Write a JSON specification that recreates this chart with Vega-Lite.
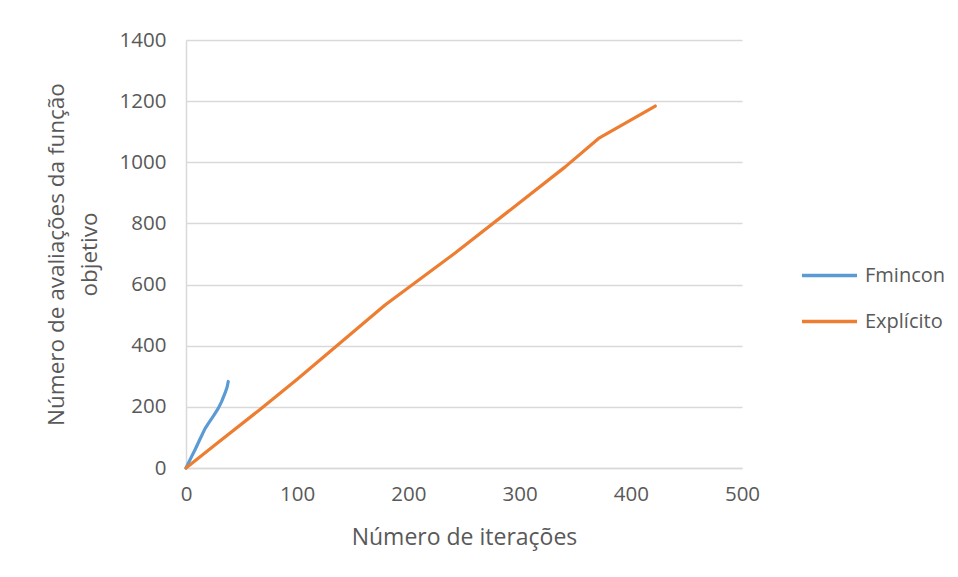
{
  "$schema": "https://vega.github.io/schema/vega-lite/v6.json",
  "autosize": {"type": "none"},
  "width": 556,
  "height": 428,
  "padding": {"left": 186, "top": 40, "right": 216, "bottom": 109},
  "background": "white",
  "config": {
    "view": {"stroke": null},
    "font": "Open Sans",
    "axis": {"labelFont": "Open Sans", "titleFont": "Open Sans", "labelColor": "#595959", "titleColor": "#595959", "titleFontWeight": "normal"}
  },
  "data": {"values": [
    {"serie": "Fmincon", "it": 0, "aval": 0},
    {"serie": "Fmincon", "it": 4, "aval": 30},
    {"serie": "Fmincon", "it": 8, "aval": 59},
    {"serie": "Fmincon", "it": 12, "aval": 90},
    {"serie": "Fmincon", "it": 17, "aval": 128},
    {"serie": "Fmincon", "it": 20, "aval": 145},
    {"serie": "Fmincon", "it": 25, "aval": 172},
    {"serie": "Fmincon", "it": 29, "aval": 195},
    {"serie": "Fmincon", "it": 32, "aval": 217},
    {"serie": "Fmincon", "it": 35, "aval": 244},
    {"serie": "Fmincon", "it": 37, "aval": 265},
    {"serie": "Fmincon", "it": 38, "aval": 283},
    {"serie": "Explícito", "it": 0, "aval": 0},
    {"serie": "Explícito", "it": 26, "aval": 75},
    {"serie": "Explícito", "it": 66, "aval": 190},
    {"serie": "Explícito", "it": 100, "aval": 290},
    {"serie": "Explícito", "it": 179, "aval": 533},
    {"serie": "Explícito", "it": 242, "aval": 703},
    {"serie": "Explícito", "it": 341, "aval": 985},
    {"serie": "Explícito", "it": 371, "aval": 1078},
    {"serie": "Explícito", "it": 422, "aval": 1184}
  ]},
  "mark": {"type": "line", "strokeWidth": 3.2, "strokeCap": "round", "strokeJoin": "round"},
  "encoding": {
    "x": {
      "field": "it", "type": "quantitative",
      "scale": {"domain": [0, 500], "nice": false},
      "axis": {
        "title": "Número de iterações", "values": [0, 100, 200, 300, 400, 500], "format": "d",
        "grid": false, "ticks": false, "domain": true, "domainColor": "#d9d9d9", "domainWidth": 1.5,
        "labelFlush": false, "labelFontSize": 20.5, "labelPadding": 16, "titleFontSize": 23, "titlePadding": 22
      }
    },
    "y": {
      "field": "aval", "type": "quantitative",
      "scale": {"domain": [0, 1400], "nice": false},
      "axis": {
        "title": ["Número de avaliações da função", "objetivo"], "values": [0, 200, 400, 600, 800, 1000, 1200, 1400], "format": "d",
        "grid": true, "gridColor": "#d9d9d9", "gridWidth": 1.5, "ticks": false, "domain": true, "domainColor": "#d9d9d9", "domainWidth": 1.5,
        "labelFlush": false, "labelFontSize": 20.5, "labelPadding": 20, "titleFontSize": 22.5, "titlePadding": 18, "titleLineHeight": 33
      }
    },
    "color": {
      "field": "serie", "type": "nominal",
      "scale": {"domain": ["Fmincon", "Explícito"], "range": ["#5b9bd5", "#ed7d31"]},
      "legend": {
        "title": null, "orient": "none", "legendX": 614, "legendY": 206,
        "symbolType": "stroke", "symbolSize": 3025, "symbolStrokeWidth": 3.5,
        "labelFontSize": 20, "labelColor": "#595959", "labelFont": "Open Sans", "labelOffset": 6,
        "rowPadding": 6
      }
    }
  }
}
